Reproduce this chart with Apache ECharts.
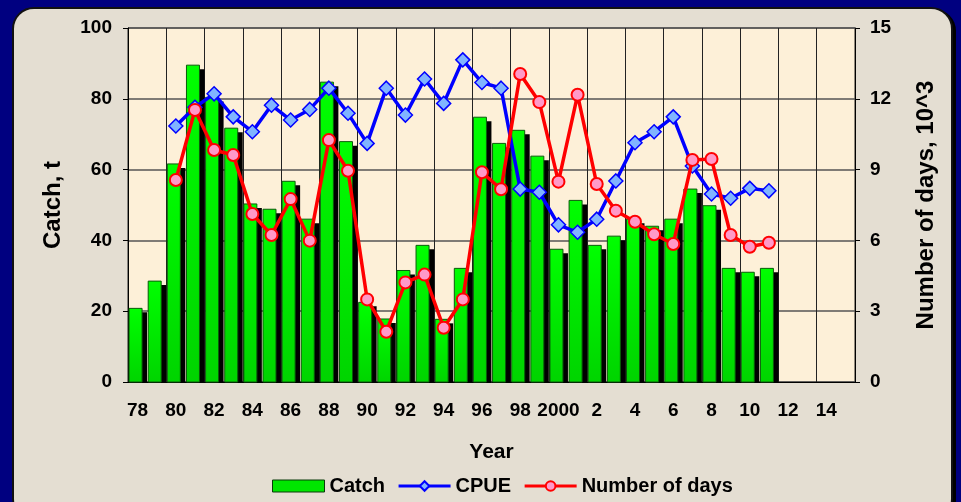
<!DOCTYPE html>
<html>
<head>
<meta charset="utf-8">
<script src="https://cdn.jsdelivr.net/npm/echarts@6/dist/echarts.min.js"></script>
<style>
  html, body { margin: 0; padding: 0; background: #000080; }
  .panel {
    position: absolute; left: 12px; top: 7px; width: 937px; height: 510px;
    background: #e4ded2; border: 2px solid #111; border-radius: 22px;
    box-shadow: 3px 2px 0 #000;
  }
  #chart { position: absolute; left: 0; top: 0; width: 961px; height: 502px; }
</style>
</head>
<body>
<div class="panel"></div>
<div id="chart"></div>
<script>
// years 1978..2015
const years = [
  1978, 1979, 1980, 1981, 1982, 1983, 1984, 1985, 1986, 1987,
  1988, 1989, 1990, 1991, 1992, 1993, 1994, 1995, 1996, 1997,
  1998, 1999, 2000, 2001, 2002, 2003, 2004, 2005, 2006, 2007,
  2008, 2009, 2010, 2011, 2012, 2013, 2014, 2015,
]
// catch, t (left axis)
const catchT = [
  20.8, 28.5, 61.6, 89.5, 80.4, 71.7, 50.3, 48.8, 56.7, 46,
  84.7, 67.9, 22.5, 17.8, 31.5, 38.6, 17.7, 32.1, 74.8, 67.4,
  71.1, 63.8, 37.5, 51.3, 38.6, 41.2, 46, 44, 46, 54.5,
  49.8, 32.1, 31, 32.1, null, null, null, null,
]
// CPUE (read on left axis scale)
const cpue = [
  null, null, 72.3, 77.6, 81.4, 74.9, 70.7, 78.2, 74, 77,
  83, 75.9, 67.4, 83, 75.4, 85.6, 78.7, 91, 84.6, 83,
  54.5, 53.6, 44.4, 42.3, 46, 56.8, 67.6, 70.7, 74.9, 61,
  53.1, 51.9, 54.7, 54, null, null, null, null,
]
// number of days, 10^3 (right axis)
const days = [
  null, null, 8.56, 11.53, 9.83, 9.62, 7.12, 6.23, 7.75, 5.99,
  10.25, 8.95, 3.5, 2.13, 4.22, 4.55, 2.3, 3.5, 8.89, 8.17,
  13.05, 11.86, 8.49, 12.17, 8.39, 7.26, 6.79, 6.26, 5.85, 9.41,
  9.45, 6.23, 5.73, 5.9, null, null, null, null,
]

const font = 'Liberation Sans, Arial, sans-serif'
const labelStyle = { color: '#000', fontWeight: 'bold', fontSize: 19, fontFamily: font }

function yearLabel(v) {
  const y = Number(v)
  if (y === 2000) return '2000'
  return String(y < 2000 ? y - 1900 : y - 2000)
}

function renderBar(params, api) {
  const v = api.value(1)
  if (v == null || isNaN(v)) return null
  const top = api.coord([api.value(0), v])
  const base = api.coord([api.value(0), 0])
  const h = base[1] - top[1]
  return {
    type: 'group',
    children: [
      {
        type: 'rect',
        shape: { x: top[0] - 3.5, y: top[1] + 4, width: 13, height: Math.max(h - 4, 0) },
        style: { fill: '#000' },
      },
      {
        type: 'rect',
        shape: { x: top[0] - 8.5, y: top[1], width: 13, height: h },
        style: {
          fill: new echarts.graphic.LinearGradient(0, 0, 0, 1, [
            { offset: 0, color: '#00ff00' },
            { offset: 1, color: '#00d400' },
          ]),
          stroke: '#0a5a0a',
          lineWidth: 1,
        },
      },
    ],
  }
}

const chart = echarts.init(document.getElementById('chart'))
chart.setOption({
  animation: false,
  grid: {
    left: 128, right: 106, top: 28, bottom: 120,
    show: true, backgroundColor: '#fdf0d8', borderColor: '#222', borderWidth: 1,
  },
  legend: {
    bottom: 1,
    left: 267,
    itemWidth: 52,
    itemHeight: 12,
    itemGap: 12,
    textStyle: { ...labelStyle, fontSize: 20 },
    data: [
      { name: 'Catch', icon: 'rect', itemStyle: { color: '#00e600', borderColor: '#0a3a0a', borderWidth: 1 } },
      { name: 'CPUE', lineStyle: { width: 3 } },
      { name: 'Number of days', lineStyle: { width: 3 } },
    ],
  },
  xAxis: {
    type: 'category',
    data: years,
    name: 'Year',
    nameLocation: 'middle',
    nameGap: 60,
    nameTextStyle: { ...labelStyle, fontSize: 21 },
    axisLine: { lineStyle: { color: '#000', width: 1 } },
    axisTick: { interval: 1, length: 5, lineStyle: { color: '#000' } },
    axisLabel: { ...labelStyle, interval: 1, margin: 19, formatter: yearLabel },
    splitLine: { show: true, interval: 1, lineStyle: { color: '#222', width: 1 } },
  },
  yAxis: [
    {
      type: 'value',
      min: 0, max: 100, interval: 20,
      name: 'Catch, t',
      nameLocation: 'middle',
      nameGap: 63,
      nameTextStyle: { ...labelStyle, fontSize: 24 },
      axisLine: { show: true, lineStyle: { color: '#000' } },
      axisTick: { show: true, length: 5, lineStyle: { color: '#000' } },
      axisLabel: { ...labelStyle, margin: 16 },
      splitLine: { lineStyle: { color: '#555', width: 1.5 } },
    },
    {
      type: 'value',
      min: 0, max: 15, interval: 3,
      name: 'Number of days, 10^3',
      nameLocation: 'middle',
      nameGap: 59,
      nameRotate: 90,
      nameTextStyle: { ...labelStyle, fontSize: 24 },
      axisLine: { show: true, lineStyle: { color: '#000' } },
      axisTick: { show: true, length: 5, lineStyle: { color: '#000' } },
      axisLabel: { ...labelStyle, margin: 15 },
      splitLine: { show: false },
    },
  ],
  series: [
    {
      name: 'Catch',
      type: 'custom',
      renderItem: renderBar,
      encode: { x: 0, y: 1 },
      itemStyle: { color: '#00e600' },
      data: catchT.map((v, i) => [i, v]),
      z: 2,
    },
    {
      name: 'CPUE',
      type: 'line',
      data: cpue,
      symbol: 'diamond',
      symbolSize: 14,
      showAllSymbol: true,
      lineStyle: { color: '#0000ff', width: 3.5 },
      itemStyle: { color: '#80b4ff', borderColor: '#0000ff', borderWidth: 1.5 },
      z: 3,
    },
    {
      name: 'Number of days',
      type: 'line',
      yAxisIndex: 1,
      data: days,
      symbol: 'circle',
      symbolSize: 12,
      showAllSymbol: true,
      lineStyle: { color: '#ff0000', width: 3.5 },
      itemStyle: { color: '#ff99c8', borderColor: '#ff0000', borderWidth: 2 },
      z: 4,
    },
  ],
})
</script>
</body>
</html>
